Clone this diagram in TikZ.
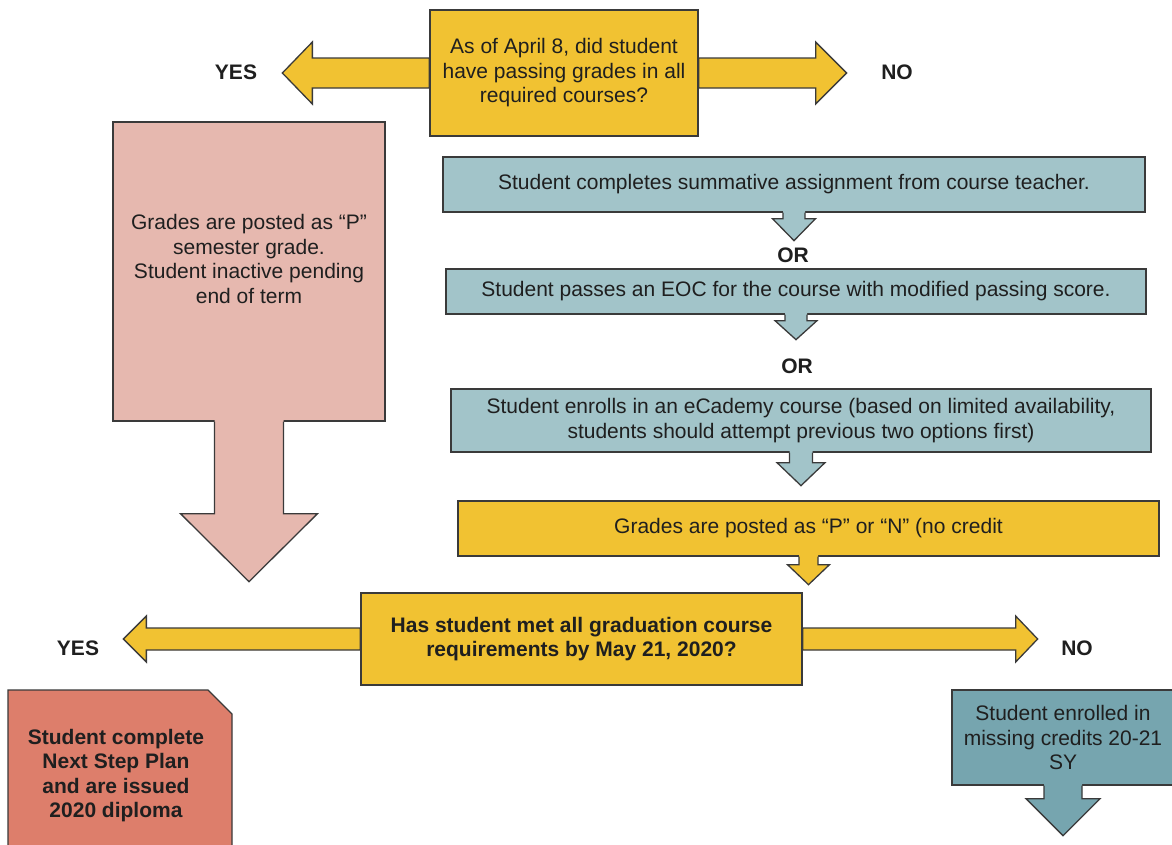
\documentclass[tikz,border=0pt]{standalone}
\usepackage{fontspec}
\setmainfont{Liberation Sans}
\usetikzlibrary{calc}
\definecolor{gold}{HTML}{F1C232}
\definecolor{rosy}{HTML}{E6B8AF}
\definecolor{paleteal}{HTML}{A2C4C9}
\definecolor{deepteal}{HTML}{76A5AF}
\definecolor{salmon}{HTML}{DD7E6B}
\definecolor{edgegray}{HTML}{3A3A3A}
\definecolor{inkgray}{HTML}{1F1F1F}
\tikzstyle{edge} = [draw=edgegray, line width=1.3pt, line join=miter]
\tikzstyle{words} = [align=center, text=inkgray, inner sep=0pt, font=\fontsize{21}{24.5}\selectfont]
\tikzstyle{box} = [rectangle, edge, words]
\tikzstyle{answer} = [words, font=\fontsize{21}{24.5}\selectfont\bfseries]
% down block arrow: colour, start, shaft half width, shaft length, head half width, head length
\newcommand{\downblock}[6]{%
	\fill[#1] ($(#2)+(-#3,-1.5)$) -- ++(0,#4+1.5) -- ++(#3-#5,0) -- ++(#5,#6) -- ++(#5,-#6) -- ++(#3-#5,0) -- ++(0,-#4-1.5) -- cycle;
	\draw[edge] ($(#2)+(-#3,0)$) -- ++(0,#4) -- ++(#3-#5,0) -- ++(#5,#6) -- ++(#5,-#6) -- ++(#3-#5,0) -- ++(0,-#4);}
% side block arrow: colour, start, shaft half height, shaft length, head half height, head length (negative = left)
\newcommand{\sideblock}[6]{%
	\filldraw[fill=#1, edge] ($(#2)+(0,-#3)$) -- ++(#4,0) -- ++(0,#3-#5) -- ++(#6,#5) -- ++({-(#6)},#5) -- ++(0,#3-#5) -- ++({-(#4)},0) -- cycle;}

\begin{document}
\begin{tikzpicture}[x=1pt, y=-1pt]
	\path[use as bounding box, fill=white] (0,0) rectangle (1172,844);

	\node[box, fill=gold, minimum width=268pt, minimum height=126pt] (april) at (564,73) {As of April 8, did student\\have passing grades in all\\required courses?};
	\sideblock{gold}{april.west}{15}{-117}{31}{-30}
	\sideblock{gold}{april.east}{15}{117}{31}{31}
	\node[answer] (yes1) at (236,72) {YES};
	\node[answer] (no1) at (897,72) {NO};

	\node[box, fill=rosy, minimum width=272pt, minimum height=299pt] (pending) at (249,271.5) {};
	\downblock{rosy}{pending.south}{34.5}{92}{68.5}{68}
	\node[words] (pendingtxt) at (249,259) {Grades are posted as “P”\\semester grade.\\Student inactive pending\\end of term};

	\node[box, fill=paleteal, minimum width=702pt, minimum height=55pt] (summative) at (794,184.5) {Student completes summative assignment from course teacher.};
	\downblock{paleteal}{summative.south}{11}{6}{21.5}{22}
	\node[answer] (or1) at (793,255) {OR};
	\node[box, fill=paleteal, minimum width=700pt, minimum height=45pt] (eoc) at (796,291.5) {Student passes an EOC for the course with modified passing score.};
	\downblock{paleteal}{eoc.south}{11}{6}{21}{19}
	\node[answer] (or2) at (797,366) {OR};
	\node[box, fill=paleteal, minimum width=700pt, minimum height=63pt] (ecademy) at (801,420.5) {Student enrolls in an eCademy course (based on limited availability,\\students should attempt previous two options first)};
	\downblock{paleteal}{ecademy.south}{11.5}{10}{24}{23}
	\node[box, fill=gold, minimum width=701pt, minimum height=55pt] (posted) at (808.5,528.5) {Grades are posted as “P” or “N” (no credit};
	\downblock{gold}{posted.south}{9.5}{8}{21}{20}

	\node[box, fill=gold, minimum width=441pt, minimum height=92pt, font=\fontsize{21}{24.5}\selectfont\bfseries] (grad) at (581.5,639) {Has student met all graduation course\\requirements by May 21, 2020?};
	\sideblock{gold}{grad.west}{11}{-214}{23}{-23}
	\sideblock{gold}{grad.east}{11}{213}{23}{22}
	\node[answer] (yes2) at (78,648) {YES};
	\node[answer] (no2) at (1077,648) {NO};

	\filldraw[fill=salmon, edge] (8,690) -- (208,690) -- (232,714) -- (232,860) -- (8,860) -- cycle;
	\node[answer] (diploma) at (116,775.5) {Student complete\\Next Step Plan\\and are issued\\2020 diploma};

	\node[box, fill=deepteal, minimum width=222pt, minimum height=95pt] (missing) at (1063,737.5) {Student enrolled in\\missing credits 20-21\\SY};
	\downblock{deepteal}{missing.south}{19}{13}{37}{37}
\end{tikzpicture}
\end{document}
